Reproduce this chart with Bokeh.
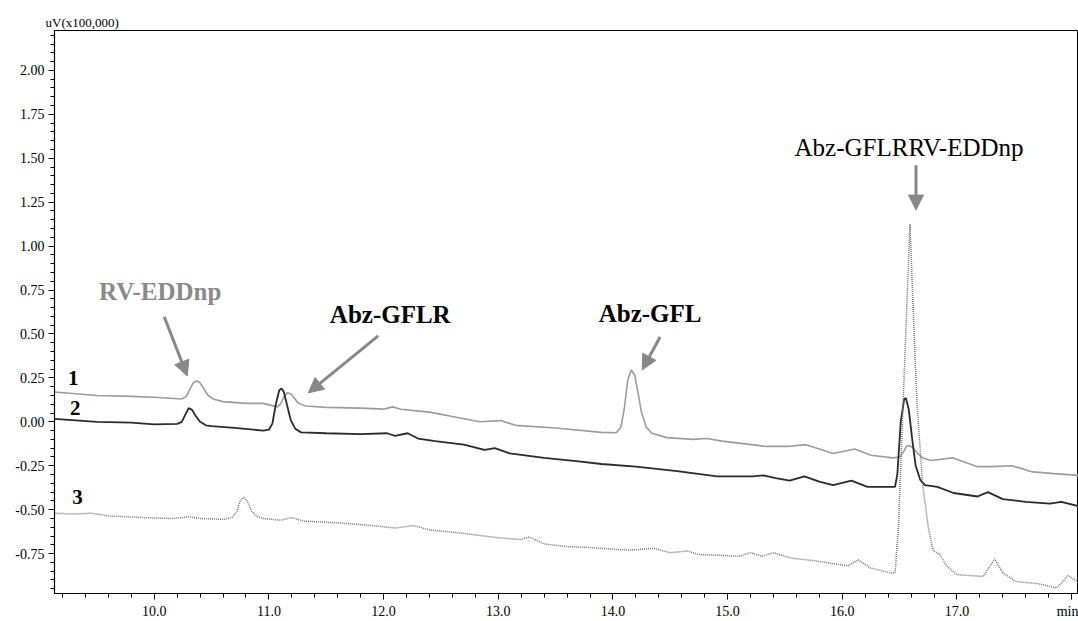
from bokeh.plotting import figure
from bokeh.models import Range1d, FixedTicker, NumeralTickFormatter, Label, Arrow, NormalHead
from bokeh.embed import file_html
from bokeh.resources import INLINE

# ---- data (time in min, signal in uV x100,000) ----
t1 = [9.13, 9.5, 9.8, 10.0, 10.24, 10.28, 10.31, 10.34, 10.37, 10.4, 10.43, 10.47, 10.52, 10.6,
      10.8, 10.95, 11.07, 11.1, 11.13, 11.16, 11.19, 11.22, 11.26, 11.32, 11.5, 11.8, 12.0, 12.08,
      12.15, 12.4, 12.6, 12.84, 13.02, 13.15, 13.5, 13.9, 14.03, 14.07, 14.1, 14.13, 14.16, 14.19,
      14.22, 14.25, 14.29, 14.34, 14.47, 14.7, 14.82, 14.95, 15.34, 15.52, 15.68, 15.8, 15.92,
      16.11, 16.25, 16.44, 16.5, 16.53, 16.56, 16.58, 16.61, 16.65, 16.7, 16.77, 16.96, 17.18,
      17.31, 17.48, 17.66, 17.85, 18.06]
v1 = [0.17, 0.15, 0.145, 0.14, 0.13, 0.145, 0.185, 0.222, 0.233, 0.222, 0.19, 0.15, 0.128, 0.115,
      0.105, 0.105, 0.085, 0.1, 0.14, 0.165, 0.16, 0.135, 0.105, 0.09, 0.082, 0.078, 0.072, 0.085,
      0.072, 0.055, 0.03, 0.0, 0.007, -0.02, -0.035, -0.06, -0.062, -0.03, 0.08, 0.24, 0.295,
      0.265, 0.16, 0.05, -0.03, -0.065, -0.09, -0.1, -0.095, -0.11, -0.14, -0.14, -0.13, -0.155,
      -0.18, -0.155, -0.19, -0.205, -0.2, -0.175, -0.14, -0.135, -0.145, -0.175, -0.205, -0.22,
      -0.205, -0.255, -0.255, -0.25, -0.285, -0.295, -0.305]

t2 = [9.13, 9.5, 9.8, 10.0, 10.2, 10.24, 10.27, 10.3, 10.33, 10.36, 10.4, 10.45, 10.5, 10.7,
      10.95, 11.0, 11.03, 11.06, 11.09, 11.11, 11.13, 11.16, 11.19, 11.23, 11.28, 11.5, 11.8,
      12.03, 12.1, 12.21, 12.3, 12.45, 12.7, 12.88, 12.97, 13.1, 13.4, 13.7, 13.9, 14.2, 14.56,
      14.91, 15.22, 15.31, 15.42, 15.54, 15.67, 15.8, 15.92, 16.08, 16.22, 16.42, 16.46, 16.48,
      16.51, 16.54, 16.555, 16.58, 16.61, 16.64, 16.68, 16.72, 16.83, 16.97, 17.18, 17.27, 17.4,
      17.6, 17.81, 17.91, 18.06]
v2 = [0.017, 0.0, -0.005, -0.015, -0.012, 0.0, 0.04, 0.078, 0.068, 0.035, 0.0, -0.02, -0.025,
      -0.035, -0.05, -0.045, -0.01, 0.1, 0.18, 0.19, 0.17, 0.09, 0.01, -0.04, -0.06, -0.065,
      -0.07, -0.065, -0.08, -0.065, -0.095, -0.11, -0.13, -0.16, -0.15, -0.18, -0.205, -0.225,
      -0.24, -0.255, -0.28, -0.31, -0.31, -0.305, -0.32, -0.335, -0.31, -0.34, -0.36, -0.335,
      -0.37, -0.37, -0.37, -0.3, 0.0, 0.13, 0.135, 0.07, -0.1, -0.25, -0.33, -0.36, -0.37,
      -0.405, -0.425, -0.4, -0.44, -0.455, -0.465, -0.455, -0.48]

t3 = [9.13, 9.3, 9.45, 9.6, 9.9, 10.15, 10.25, 10.3, 10.4, 10.6, 10.68, 10.72, 10.75, 10.78,
      10.81, 10.85, 10.9, 10.95, 11.1, 11.2, 11.3, 11.6, 11.9, 12.1, 12.26, 12.4, 12.7, 13.0,
      13.2, 13.27, 13.4, 13.6, 13.8, 14.0, 14.15, 14.35, 14.5, 14.65, 14.75, 14.95, 15.1, 15.2,
      15.3, 15.4, 15.55, 15.75, 16.05, 16.14, 16.24, 16.42, 16.46, 16.49, 16.53, 16.59, 16.65,
      16.7, 16.75, 16.79, 16.85, 16.91, 17.0, 17.23, 17.33, 17.4, 17.52, 17.7, 17.87, 17.97, 18.06]
v3 = [-0.52, -0.525, -0.52, -0.535, -0.545, -0.55, -0.545, -0.54, -0.55, -0.555, -0.545, -0.51,
      -0.45, -0.43, -0.45, -0.51, -0.54, -0.55, -0.56, -0.545, -0.565, -0.575, -0.59, -0.605,
      -0.59, -0.615, -0.635, -0.66, -0.67, -0.655, -0.695, -0.71, -0.715, -0.725, -0.73, -0.72,
      -0.745, -0.735, -0.755, -0.76, -0.765, -0.745, -0.765, -0.745, -0.775, -0.79, -0.82,
      -0.785, -0.83, -0.86, -0.86, -0.6, 0.1, 1.125, 0.12, -0.35, -0.6, -0.73, -0.755, -0.82,
      -0.87, -0.88, -0.78, -0.86, -0.91, -0.92, -0.945, -0.875, -0.915]

x_major_ticks = [10, 11, 12, 13, 14, 15, 16, 17, 18]
y_major_ticks = [-0.75, -0.5, -0.25, 0.0, 0.25, 0.5, 0.75, 1.0, 1.25, 1.5, 1.75, 2.0]

# annotations: (text, x, y)
trace_labels = [("1", 9.294, 0.25), ("2", 9.311, 0.08), ("3", 9.33, -0.426)]
peak_labels = [("RV-EDDnp", 10.052, 0.739, "bold", "#8a8a8a", "25px"),
               ("Abz-GFLR", 12.058, 0.608, "bold", "black", "25px"),
               ("Abz-GFL", 14.324, 0.614, "bold", "black", "25px"),
               ("Abz-GFLRRV-EDDnp", 16.582, 1.5625, "normal", "black", "25px")]
arrows = [(10.087, 0.597, 10.288, 0.261),
          (11.953, 0.489, 11.343, 0.165),
          (14.411, 0.483, 14.255, 0.295),
          (16.643, 1.460, 16.643, 1.205)]

FONT = "Liberation Serif"

p = figure(width=1078, height=621, x_range=Range1d(9.13, 18.06), y_range=Range1d(-0.977, 2.227),
           output_backend="svg", toolbar_location=None,
           min_border_left=54, min_border_right=0, min_border_top=30, min_border_bottom=27)
p.grid.visible = False
p.outline_line_color = "black"
p.outline_line_width = 1
p.background_fill_color = "white"
p.border_fill_color = "white"

# y-axis unit label shown at the top-left, as in the instrument printout
p.title.text = "uV(x100,000)"
p.title.align = "left"
p.title.offset = -9
p.title.standoff = 2
p.title.text_font = FONT
p.title.text_font_size = "13px"
p.title.text_font_style = "normal"
p.title.text_color = "black"

p.line(t1, v1, line_color="#9c9c9c", line_width=1.6)
p.line(t2, v2, line_color="#2b2b2b", line_width=1.8)
p.line(t3, v3, line_color="#777777", line_width=1.5, line_dash="1 1")

x_minor = [round(9.2 + 0.2 * i, 1) for i in range(45)]
y_minor = [round(-0.95 + 0.05 * i, 2) for i in range(64)]

xax = p.xaxis[0]
yax = p.yaxis[0]
xax.ticker = FixedTicker(ticks=x_major_ticks, minor_ticks=x_minor)
yax.ticker = FixedTicker(ticks=y_major_ticks, minor_ticks=y_minor)
xax.formatter = NumeralTickFormatter(format="0.0")
yax.formatter = NumeralTickFormatter(format="0.00")
xax.major_label_overrides = {18: "min"}

for ax in (xax, yax):
    ax.axis_line_color = "black"
    ax.axis_line_width = 1.2
    ax.major_tick_in = 0
    ax.minor_tick_in = 0
    ax.major_tick_out = 6
    ax.minor_tick_out = 4
    ax.major_tick_line_color = "black"
    ax.minor_tick_line_color = "black"
    ax.major_label_text_font = FONT
    ax.major_label_text_font_size = "14px"
    ax.major_label_text_font_style = "normal"
    ax.major_label_text_color = "black"
    ax.major_label_standoff = 4

for txt, x, y in trace_labels:
    p.add_layout(Label(x=x, y=y, text=txt, text_font=FONT, text_font_size="21px",
                       text_font_style="bold", text_align="center", text_baseline="middle",
                       text_color="black"))

for txt, x, y, style, col, size in peak_labels:
    p.add_layout(Label(x=x, y=y, text=txt, text_font=FONT, text_font_size=size,
                       text_font_style=style, text_align="center", text_baseline="middle",
                       text_color=col))

for xs, ys, xe, ye in arrows:
    p.add_layout(Arrow(end=NormalHead(size=15, fill_color="#888888", line_color="#888888"),
                       x_start=xs, y_start=ys, x_end=xe, y_end=ye,
                       line_color="#888888", line_width=3))

open("out.html", "w").write(file_html(p, INLINE))
